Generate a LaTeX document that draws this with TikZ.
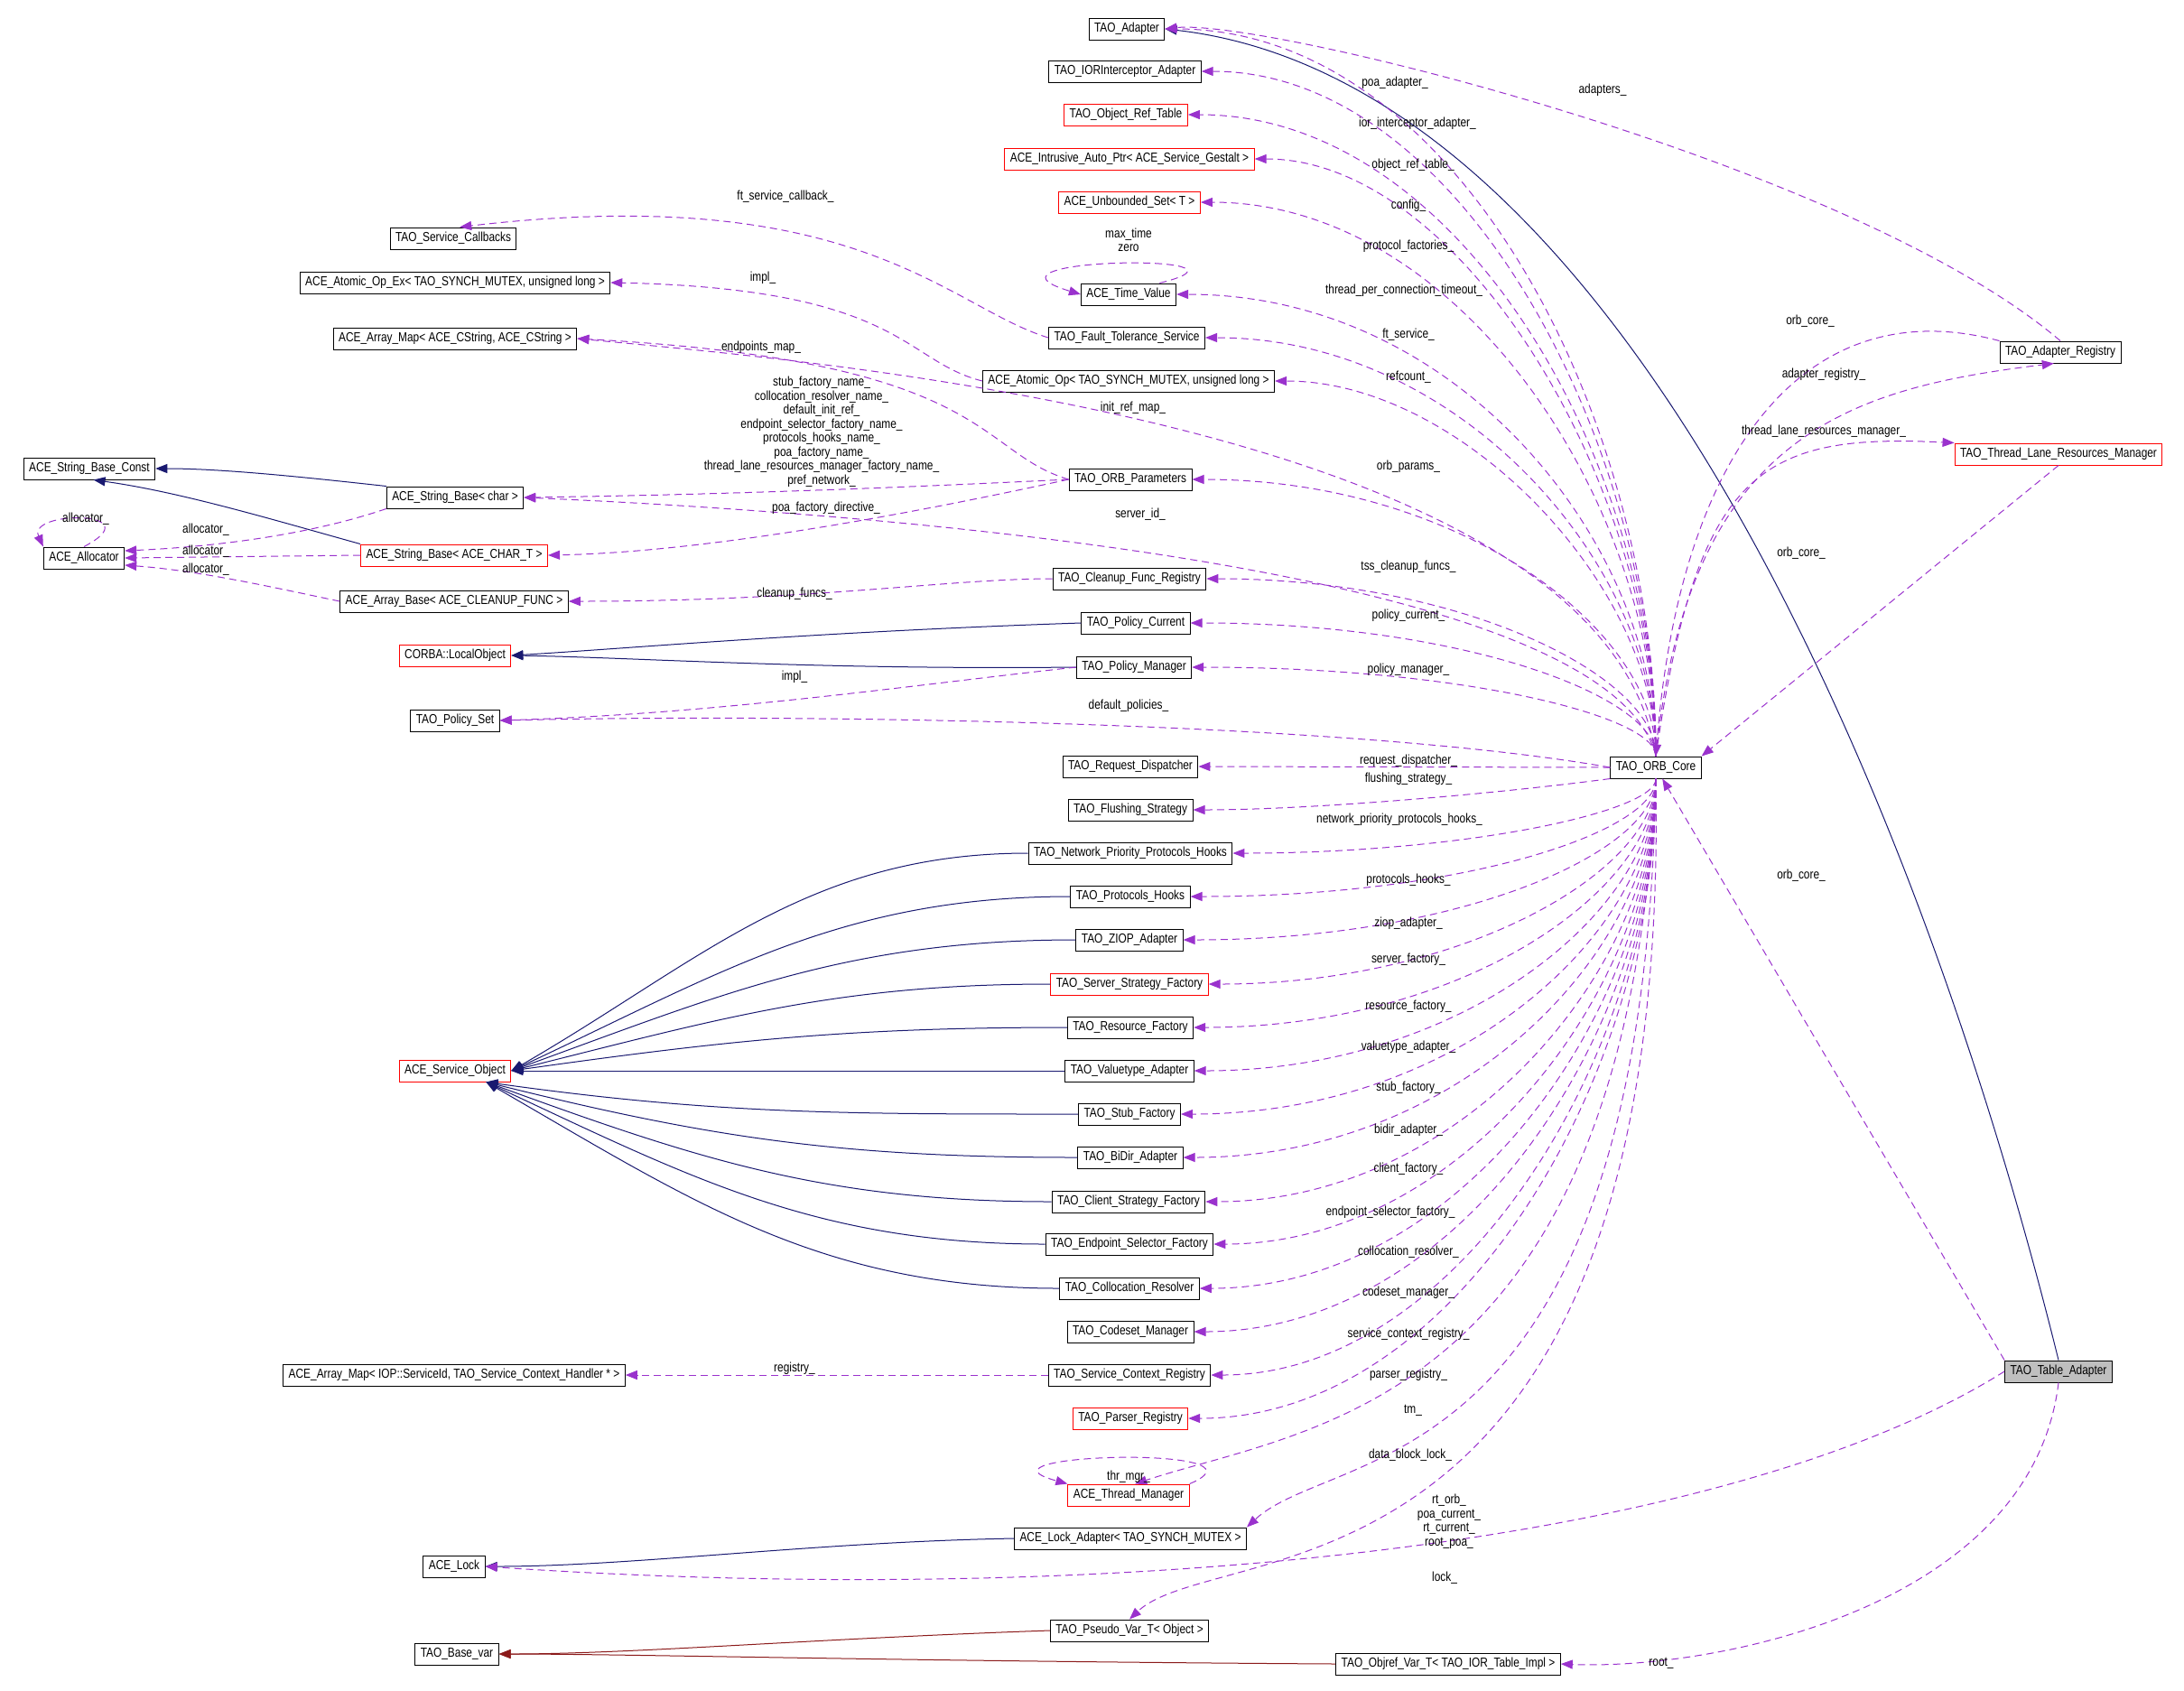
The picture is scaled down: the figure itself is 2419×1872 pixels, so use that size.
\documentclass[tikz,border=0pt]{standalone}
\usepackage{fontspec}
\setmainfont{Liberation Sans}[FakeStretch=0.82]
\usetikzlibrary{arrows.meta}
\definecolor{usec}{HTML}{9A32CD}
\definecolor{inh}{HTML}{191970}
\definecolor{tmpl}{HTML}{8B1A1A}
\newcommand\cu[2]{\draw[usage] (core.north) .. controls (1835,{#2+0.55*(838-#2)}) and (1620,#2) .. (#1.east);}
\newcommand\cd[2]{\draw[usage] (core.south) .. controls (1835,{#2-0.55*(#2-862)}) and (1620,#2) .. (#1.east);}
\begin{document}
\begin{tikzpicture}[x=1pt,y=-1pt,font=\fontsize{14.5}{16}\selectfont,
 cls/.style={draw=black,line width=1pt,fill=white,minimum height=24pt,inner xsep=6pt,inner ysep=2pt},
 redc/.style={cls,draw=red},
 lbl/.style={inner sep=1pt,align=center,font=\fontsize{14.5}{15.5}\selectfont},
 usage/.style={usec,line width=1pt,dash pattern=on 8pt off 5pt,-{Triangle[length=13pt,width=10pt]}},
 inher/.style={inh,line width=1pt,-{Triangle[length=13pt,width=10pt]}},
 tinher/.style={tmpl,line width=1pt,-{Triangle[length=13pt,width=10pt]}}]
\useasboundingbox (0,0) rectangle (2419,1872);
% nodes
\node[cls] (adapter) at (1248,32) {TAO\_Adapter};
\node[cls] (iori) at (1246,79) {TAO\_IORInterceptor\_Adapter};
\node[redc] (ort) at (1247,127) {TAO\_Object\_Ref\_Table};
\node[redc] (iap) at (1251,176) {ACE\_Intrusive\_Auto\_Ptr< ACE\_Service\_Gestalt >};
\node[redc] (uset) at (1251,224) {ACE\_Unbounded\_Set< T >};
\node[cls] (scb) at (502,264) {TAO\_Service\_Callbacks};
\node[cls] (aoex) at (504,313) {ACE\_Atomic\_Op\_Ex< TAO\_SYNCH\_MUTEX, unsigned long >};
\node[cls] (tv) at (1250,326) {ACE\_Time\_Value};
\node[cls] (amap) at (504,375) {ACE\_Array\_Map< ACE\_CString, ACE\_CString >};
\node[cls] (ft) at (1248,374) {TAO\_Fault\_Tolerance\_Service};
\node[cls] (aop) at (1250,422) {ACE\_Atomic\_Op< TAO\_SYNCH\_MUTEX, unsigned long >};
\node[cls] (areg) at (2282,390) {TAO\_Adapter\_Registry};
\node[redc] (tlrm) at (2280,503) {TAO\_Thread\_Lane\_Resources\_Manager};
\node[cls] (sbc) at (99,519) {ACE\_String\_Base\_Const};
\node[cls] (sbchar) at (504,551) {ACE\_String\_Base< char >};
\node[cls] (orbp) at (1252,531) {TAO\_ORB\_Parameters};
\node[cls] (alloc) at (93,618) {ACE\_Allocator};
\node[redc] (sbt) at (503,615) {ACE\_String\_Base< ACE\_CHAR\_T >};
\node[cls] (cfr) at (1251,641) {TAO\_Cleanup\_Func\_Registry};
\node[cls] (abase) at (503,666) {ACE\_Array\_Base< ACE\_CLEANUP\_FUNC >};
\node[cls] (pcur) at (1258,690) {TAO\_Policy\_Current};
\node[redc] (lobj) at (504,726) {CORBA::LocalObject};
\node[cls] (pman) at (1256,739) {TAO\_Policy\_Manager};
\node[cls] (pset) at (504,798) {TAO\_Policy\_Set};
\node[cls] (core) at (1834,850) {TAO\_ORB\_Core};
\node[cls] (rd) at (1252,849) {TAO\_Request\_Dispatcher};
\node[cls] (fs) at (1252,897) {TAO\_Flushing\_Strategy};
\node[cls] (npph) at (1252,945) {TAO\_Network\_Priority\_Protocols\_Hooks};
\node[cls] (ph) at (1252,993) {TAO\_Protocols\_Hooks};
\node[cls] (ziop) at (1251,1041) {TAO\_ZIOP\_Adapter};
\node[redc] (ssf) at (1251,1090) {TAO\_Server\_Strategy\_Factory};
\node[redc] (so) at (504,1186) {ACE\_Service\_Object};
\node[cls] (rf) at (1252,1138) {TAO\_Resource\_Factory};
\node[cls] (vta) at (1251,1186) {TAO\_Valuetype\_Adapter};
\node[cls] (stf) at (1251,1234) {TAO\_Stub\_Factory};
\node[cls] (bidir) at (1252,1282) {TAO\_BiDir\_Adapter};
\node[cls] (csf) at (1250,1331) {TAO\_Client\_Strategy\_Factory};
\node[cls] (esf) at (1251,1378) {TAO\_Endpoint\_Selector\_Factory};
\node[cls] (cr) at (1251,1427) {TAO\_Collocation\_Resolver};
\node[cls] (csm) at (1252,1475) {TAO\_Codeset\_Manager};
\node[cls] (amapiop) at (503,1523) {ACE\_Array\_Map< IOP::ServiceId, TAO\_Service\_Context\_Handler * >};
\node[cls] (scr) at (1251,1523) {TAO\_Service\_Context\_Registry};
\node[redc] (preg) at (1252,1571) {TAO\_Parser\_Registry};
\node[redc] (tmgr) at (1250,1656) {ACE\_Thread\_Manager};
\node[cls] (lad) at (1252,1704) {ACE\_Lock\_Adapter< TAO\_SYNCH\_MUTEX >};
\node[cls] (lock) at (503,1735) {ACE\_Lock};
\node[cls] (pvar) at (1251,1806) {TAO\_Pseudo\_Var\_T< Object >};
\node[cls] (bvar) at (506,1832) {TAO\_Base\_var};
\node[cls] (ovar) at (1604,1843) {TAO\_Objref\_Var\_T< TAO\_IOR\_Table\_Impl >};
\node[cls,fill=black!25] (ta) at (2280,1519) {TAO\_Table\_Adapter};
% inheritance
\draw[inher] (ta.north) .. controls (2130,900) and (1800,90) .. (adapter.east);
\draw[inher] (sbchar.north west) .. controls (350,530) and (250,519) .. (sbc.east);
\draw[inher] (sbt.north west) .. controls (300,575) and (200,545) .. (sbc.-70);
\draw[inher] (pcur.west) .. controls (900,700) and (700,718) .. (lobj.east);
\draw[inher] (pman.west) .. controls (900,742) and (700,728) .. (lobj.east);
\foreach \c/\a in {npph/30,ph/25,ziop/20,ssf/14,rf/8}
  \draw[inher] (\c.west) to[out=180,in=\a] (so.east);
\draw[inher] (vta.west) -- (so.east);
\foreach \c/\a in {stf/-8,bidir/-14,csf/-20,esf/-25,cr/-30}
  \draw[inher] (\c.west) to[out=180,in=\a] (so.-20);
\draw[inher] (lad.west) .. controls (900,1708) and (700,1735) .. (lock.east);
\draw[tinher] (pvar.west) .. controls (900,1815) and (700,1832) .. (bvar.east);
\draw[tinher] (ovar.west) .. controls (1000,1840) and (700,1832) .. (bvar.east);
% usage from core (upper)
\cu{adapter}{32} \cu{iori}{79} \cu{ort}{127} \cu{iap}{176} \cu{uset}{224}
\cu{tv}{326} \cu{ft}{374} \cu{aop}{422} \cu{orbp}{531} \cu{cfr}{641}
\cu{pcur}{690} \cu{pman}{739}
\draw[usage] (core.north) .. controls (1780,620) and (900,565) .. (sbchar.east);
\draw[usage] (core.north) .. controls (1780,470) and (900,400) .. (amap.east);
\draw[usage] (core.west) .. controls (1500,800) and (900,790) .. (pset.east);
\draw[usage] (core.west) -- (rd.east);
\draw[usage] (core.south west) .. controls (1650,880) and (1450,897) .. (fs.east);
% usage from core (lower)
\cd{npph}{945} \cd{ph}{993} \cd{ziop}{1041} \cd{ssf}{1090} \cd{rf}{1138}
\cd{vta}{1186} \cd{stf}{1234} \cd{bidir}{1282} \cd{csf}{1331} \cd{esf}{1378}
\cd{cr}{1427} \cd{csm}{1475} \cd{scr}{1523} \cd{preg}{1571}
\draw[usage] (core.south) .. controls (1800,1560) and (1450,1580) .. (tmgr.60);
\draw[usage] (core.south) .. controls (1820,1650) and (1480,1600) .. (lad.north east);
\draw[usage] (core.south) .. controls (1850,1800) and (1350,1700) .. (pvar.north);
% registry, tlrm, table adapter
\draw[usage] (areg.north west) .. controls (2000,320) and (1860,500) .. (core.north);
\draw[usage] (core.north) .. controls (1870,480) and (2050,430) .. (areg.-120);
\draw[usage] (core.north) .. controls (1880,520) and (1950,480) .. (tlrm.north west);
\draw[usage] (tlrm.south) -- (core.north east);
\draw[usage] (areg.north) .. controls (2050,180) and (1400,20) .. (adapter.east);
\draw[usage] (ta.north west) -- (core.-60);
\draw[usage] (ta.west) .. controls (1900,1720) and (1200,1780) .. (lock.east);
\draw[usage] (ta.south) .. controls (2250,1780) and (1900,1850) .. (ovar.east);
% other usage
\draw[usage] (ft.west) .. controls (1050,340) and (950,200) .. (scb.60);
\draw[usage] (aop.west) .. controls (1000,400) and (1000,320) .. (aoex.east);
\draw[usage] (orbp.west) .. controls (1080,500) and (1100,400) .. (amap.east);
\draw[usage] (orbp.west) .. controls (1000,540) and (800,548) .. (sbchar.east);
\draw[usage] (orbp.west) .. controls (1050,560) and (800,611) .. (sbt.east);
\draw[usage] (cfr.west) .. controls (1050,641) and (900,666) .. (abase.east);
\draw[usage] (pman.west) .. controls (1000,760) and (800,790) .. (pset.east);
\draw[usage] (scr.west) -- (amapiop.east);
\draw[usage] (sbchar.south west) .. controls (350,590) and (250,605) .. (alloc.10);
\draw[usage] (sbt.west) -- (alloc.east);
\draw[usage] (abase.west) .. controls (300,650) and (220,632) .. (alloc.-10);
\draw[usage] (alloc.north) .. controls (170,565) and (30,565) .. (alloc.north west);
\draw[usage] (tv.20) .. controls (1420,280) and (1060,285) .. (tv.west);
\draw[usage] (tmgr.north east) .. controls (1420,1600) and (1060,1610) .. (tmgr.north west);
% labels
\node[lbl] (l1) at (1545,92) {poa\_adapter\_};
\node[lbl] (l2) at (1570,137) {ior\_interceptor\_adapter\_};
\node[lbl] (l3) at (1565,183) {object\_ref\_table\_};
\node[lbl] (l4) at (1560,228) {config\_};
\node[lbl] (l5) at (1560,273) {protocol\_factories\_};
\node[lbl] (l6) at (1555,322) {thread\_per\_connection\_timeout\_};
\node[lbl] (l7) at (1560,371) {ft\_service\_};
\node[lbl] (l8) at (1560,418) {refcount\_};
\node[lbl] (l9) at (1255,452) {init\_ref\_map\_};
\node[lbl] (l10) at (1560,517) {orb\_params\_};
\node[lbl] (l11) at (1263,570) {server\_id\_};
\node[lbl] (l12) at (1560,628) {tss\_cleanup\_funcs\_};
\node[lbl] (l13) at (1560,682) {policy\_current\_};
\node[lbl] (l14) at (1560,742) {policy\_manager\_};
\node[lbl] (l15) at (1250,782) {default\_policies\_};
\node[lbl] (l16) at (1560,843) {request\_dispatcher\_};
\node[lbl] (l17) at (1560,863) {flushing\_strategy\_};
\node[lbl] (l18) at (1550,908) {network\_priority\_protocols\_hooks\_};
\node[lbl] (l19) at (1560,975) {protocols\_hooks\_};
\node[lbl] (l20) at (1560,1023) {ziop\_adapter\_};
\node[lbl] (l21) at (1560,1063) {server\_factory\_};
\node[lbl] (l22) at (1560,1115) {resource\_factory\_};
\node[lbl] (l23) at (1560,1160) {valuetype\_adapter\_};
\node[lbl] (l24) at (1560,1205) {stub\_factory\_};
\node[lbl] (l25) at (1560,1252) {bidir\_adapter\_};
\node[lbl] (l26) at (1560,1295) {client\_factory\_};
\node[lbl] (l27) at (1540,1343) {endpoint\_selector\_factory\_};
\node[lbl] (l28) at (1560,1387) {collocation\_resolver\_};
\node[lbl] (l29) at (1560,1432) {codeset\_manager\_};
\node[lbl] (l30) at (1560,1478) {service\_context\_registry\_};
\node[lbl] (l31) at (1560,1523) {parser\_registry\_};
\node[lbl] (l32) at (1565,1562) {tm\_};
\node[lbl] (l33) at (1562,1612) {data\_block\_lock\_};
\node[lbl] (l34) at (1605,1685) {rt\_orb\_\\poa\_current\_\\rt\_current\_\\root\_poa\_};
\node[lbl] (l35) at (1600,1748) {lock\_};
\node[lbl] (l36) at (1840,1842) {root\_};
\node[lbl] (l37) at (1995,970) {orb\_core\_};
\node[lbl] (l38) at (2005,356) {orb\_core\_};
\node[lbl] (l39) at (2020,415) {adapter\_registry\_};
\node[lbl] (l40) at (2020,478) {thread\_lane\_resources\_manager\_};
\node[lbl] (l41) at (1995,613) {orb\_core\_};
\node[lbl] (l42) at (1775,100) {adapters\_};
\node[lbl] (l43) at (870,218) {ft\_service\_callback\_};
\node[lbl] (l44) at (845,308) {impl\_};
\node[lbl] (l45) at (843,385) {endpoints\_map\_};
\node[lbl] (l46) at (910,478) {stub\_factory\_name\_\\collocation\_resolver\_name\_\\default\_init\_ref\_\\endpoint\_selector\_factory\_name\_\\protocols\_hooks\_name\_\\poa\_factory\_name\_\\thread\_lane\_resources\_manager\_factory\_name\_\\pref\_network\_};
\node[lbl] (l47) at (915,563) {poa\_factory\_directive\_};
\node[lbl] (l48) at (880,658) {cleanup\_funcs\_};
\node[lbl] (l49) at (880,750) {impl\_};
\node[lbl] (l50) at (880,1516) {registry\_};
\node[lbl] (l51) at (95,575) {allocator\_};
\node[lbl] (l52) at (228,587) {allocator\_};
\node[lbl] (l53) at (228,611) {allocator\_};
\node[lbl] (l54) at (228,631) {allocator\_};
\node[lbl] (l55) at (1250,266) {max\_time\\zero};
\node[lbl] (l56) at (1250,1636) {thr\_mgr\_};
\end{tikzpicture}
\end{document}
